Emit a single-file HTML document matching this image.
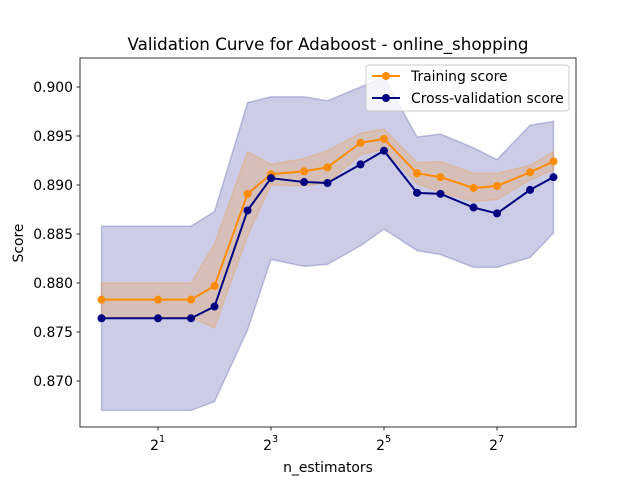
<!DOCTYPE html>
<html><head><meta charset="utf-8"><style>
body{margin:0;background:#fff;}
svg text{font-family:"DejaVu Sans","Liberation Sans",sans-serif;fill:#000;}
</style></head><body>
<svg id="chart" width="640" height="480" xmlns="http://www.w3.org/2000/svg">
<rect width="640" height="480" fill="#fff"/>
<text x="328" y="50" font-size="16.7" text-anchor="middle">Validation Curve for Adaboost - online_shopping</text>
<g id="bands"></g><g id="lines"></g><g id="axes"></g>
<text x="328" y="472" font-size="13.9" text-anchor="middle">n_estimators</text>
<text x="23" y="243" font-size="13.9" text-anchor="middle" transform="rotate(-90 23 243)">Score</text>
<g>
<rect x="366" y="65" width="203" height="46" rx="3" fill="#fff" fill-opacity="0.8" stroke="#ccc"/>
<line x1="372" y1="76" x2="400" y2="76" stroke="#ff8c00" stroke-width="2"/><circle cx="386" cy="76" r="4" fill="#ff8c00"/>
<text x="411" y="81" font-size="13.9">Training score</text>
<line x1="372" y1="98" x2="400" y2="98" stroke="#000080" stroke-width="2"/><circle cx="386" cy="98" r="4" fill="#000080"/>
<text x="411" y="103" font-size="13.9">Cross-validation score</text>
</g>
</svg>
<script>
const nEstimators=[1,2,3,4,6,8,12,16,24,32,48,64,96,128,192,256];
const trainMean=[0.8783,0.8783,0.8783,0.8797,0.8891,0.8911,0.8914,0.8918,0.8943,0.8947,0.8912,0.8908,0.8897,0.8899,0.8913,0.8924];
const trainUpper=[0.8800,0.8800,0.8800,0.8840,0.8934,0.8921,0.8927,0.8935,0.8953,0.8957,0.8923,0.8924,0.8912,0.8912,0.8920,0.8934];
const trainLower=[0.8765,0.8765,0.8765,0.8754,0.8848,0.8900,0.8899,0.8902,0.8931,0.8936,0.8901,0.8893,0.8883,0.8885,0.8905,0.8915];
const cvMean=[0.8764,0.8764,0.8764,0.8776,0.8874,0.8907,0.8903,0.8902,0.8921,0.8935,0.8892,0.8891,0.8877,0.8871,0.8895,0.8908];
const cvUpper=[0.8858,0.8858,0.8858,0.8873,0.8984,0.8990,0.8990,0.8986,0.9000,0.9010,0.8949,0.8952,0.8938,0.8926,0.8961,0.8965];
const cvLower=[0.8670,0.8670,0.8670,0.8679,0.8752,0.8824,0.8817,0.8819,0.8838,0.8855,0.8833,0.8829,0.8816,0.8816,0.8826,0.8851];
const yTicks=[0.870,0.875,0.880,0.885,0.890,0.895,0.900];
const xTickExps=[1,3,5,7];
const L=80,R=576,T=58,B=427;
const NS="http://www.w3.org/2000/svg";
function xs(n){return 158+(Math.log2(n)-1)*56.5;}
function ys(v){return 87+(0.900-v)*9800;}
function mk(tag,attrs,parent){const e=document.createElementNS(NS,tag);for(const k in attrs)e.setAttribute(k,attrs[k]);parent.appendChild(e);return e;}
const bands=document.getElementById('bands'),lines=document.getElementById('lines'),axes=document.getElementById('axes');
function band(up,lo,color,name){
  let pts=nEstimators.map((n,i)=>xs(n)+','+ys(up[i]));
  for(let i=nEstimators.length-1;i>=0;i--)pts.push(xs(nEstimators[i])+','+ys(lo[i]));
  const p=mk('polygon',{points:pts.join(' '),fill:color,'fill-opacity':0.2,stroke:color,'stroke-opacity':0.2,'stroke-width':1.5},bands);
  
  
}
band(cvUpper,cvLower,'#000080','cv-score-band');
band(trainUpper,trainLower,'#ff8c00','training-score-band');
function series(vals,color,name){
  const pl=mk('polyline',{points:nEstimators.map((n,i)=>xs(n)+','+ys(vals[i])).join(' '),fill:'none',stroke:color,'stroke-width':2},lines);
  
  
  nEstimators.forEach((n,i)=>{
    const c=mk('circle',{cx:xs(n),cy:ys(vals[i]),r:4,fill:color},lines);
    
    
  });
}
series(trainMean,'#ff8c00','training-score');
series(cvMean,'#000080','cv-score');
const frame=mk('rect',{x:L,y:T,width:R-L,height:B-T,fill:'none',stroke:'#000','stroke-width':0.8},axes);


yTicks.forEach(v=>{
  const y=ys(v);
  mk('line',{x1:L-3.5,y1:y,x2:L,y2:y,stroke:'#000','stroke-width':0.8},axes);
  const t=mk('text',{x:L-7,y:y+5,'font-size':13.9,'text-anchor':'end'},axes);
  t.textContent=v.toFixed(3);
  
  
});
xTickExps.forEach(e=>{
  const x=xs(Math.pow(2,e));
  mk('line',{x1:x,y1:B,x2:x,y2:B+3.5,stroke:'#000','stroke-width':0.8},axes);
  const t=mk('text',{x:x+1,y:B+23,'font-size':13.9,'text-anchor':'end'},axes);
  t.textContent='2';
  
  
  const s=mk('text',{x:x+1,y:B+15,'font-size':9.7},axes);
  s.textContent=String(e);
  
  
});
</script>
</body></html>
